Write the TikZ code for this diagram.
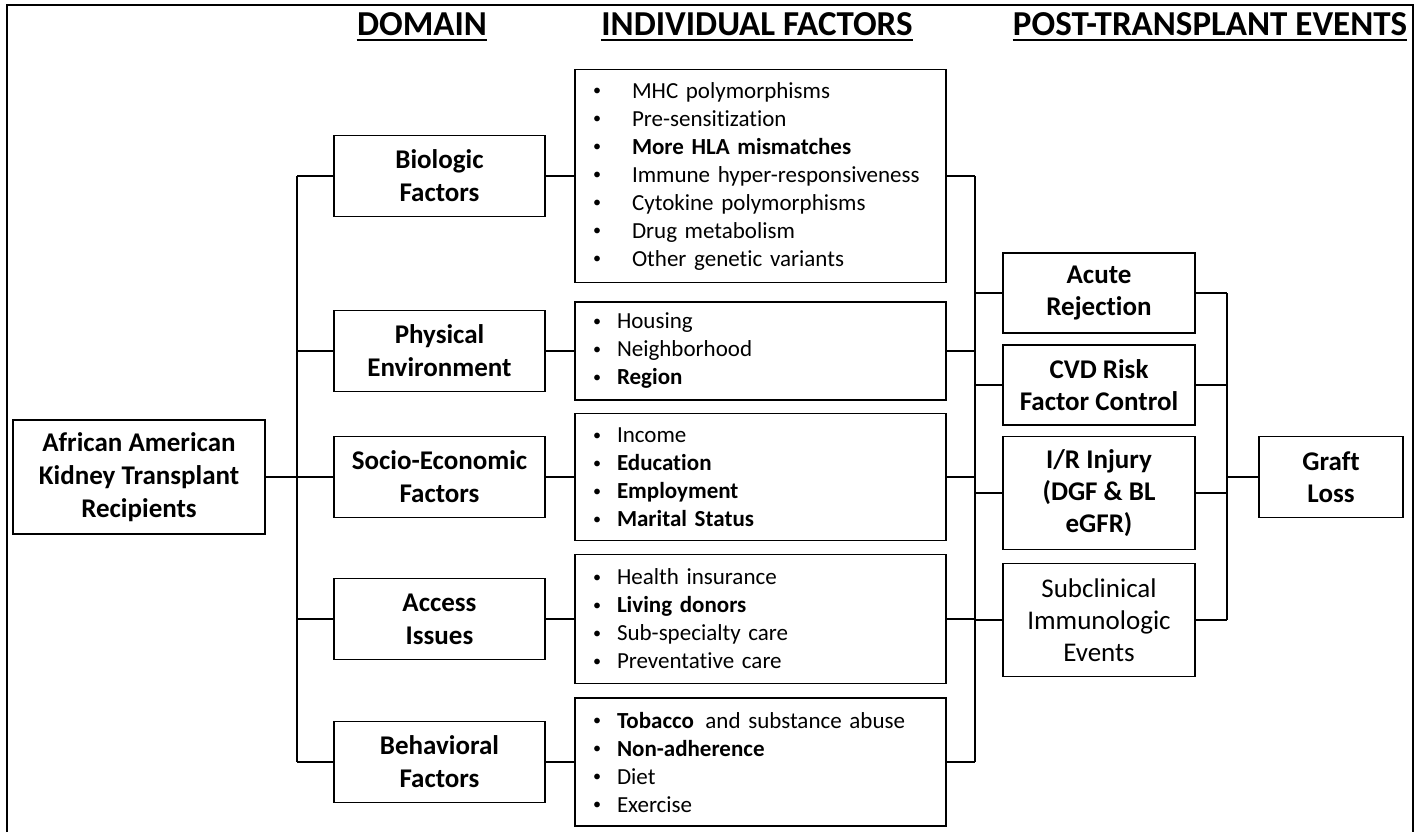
\documentclass[tikz,border=0pt]{standalone}
\usepackage{fontspec}
\setmainfont{Carlito}[RawFeature=-liga]
\usetikzlibrary{calc}

\newcommand{\dotmark}{\raisebox{0.2ex}{\scalebox{0.7}{\textbullet}}}
\newcommand{\itm}[1]{\makebox[12pt][l]{\dotmark}#1}
\newcommand{\itmw}[1]{\makebox[19.5pt][l]{\dotmark}#1}

\tikzset{
  domainbox/.style={draw, line width=0.9pt, align=center, inner sep=2pt,
    minimum width=105.5pt, minimum height=40.5pt,
    font=\fontsize{13.5}{16.5}\selectfont\bfseries},
  itembox/.style={draw, line width=0.9pt, align=left, inner xsep=9pt, inner ysep=2pt,
    text width=167.5pt, font=\fontsize{11.5}{14}\selectfont},
  eventbox/.style={draw, line width=0.9pt, align=center, inner sep=2pt,
    minimum width=96pt, font=\fontsize{13.5}{16}\selectfont\bfseries},
  heading/.style={inner sep=0pt, anchor=base, font=\fontsize{17.5}{20}\selectfont\bfseries},
  link/.style={line width=1pt},
}

\begin{document}
\begin{tikzpicture}[x=0.5pt, y=-0.5pt]
    \useasboundingbox (0,0) rectangle (1424,832);

    % frame
    \draw[line width=0.9pt] (7,832) -- (7,5) -- (1413,5) -- (1413,832);

    % column headings
    \node[heading] (hdom) at (422,35) {DOMAIN};
    \node[heading] (hind) at (757,35) {INDIVIDUAL FACTORS};
    \node[heading] (hpost) at (1210,35) {POST-TRANSPLANT EVENTS};
    \foreach \h in {hdom,hind,hpost}
    \draw[line width=1pt] ([yshift=-2.5pt]\h.base west) -- ([yshift=-2.5pt]\h.base east);

    % root
    \node[domainbox, minimum width=126pt, minimum height=57pt] (root) at (139,477)
        {African American\\Kidney Transplant\\Recipients};

    % domains
    \node[domainbox] (bio) at (439.5,176) {Biologic\\Factors};
    \node[domainbox] (phy) at (439.5,351) {Physical\\Environment};
    \node[domainbox] (soc) at (439.5,477) {Socio-Economic\\Factors};
    \node[domainbox] (acc) at (439.5,619) {Access\\Issues};
    \node[domainbox] (beh) at (439.5,762) {Behavioral\\Factors};

    % individual factors
    \node[itembox, minimum height=106.5pt] (bio-i) at (760.5,176) {%
        \itmw{MHC polymorphisms}\\ \itmw{Pre-sensitization}\\
        \itmw{\textbf{More HLA mismatches}}\\ \itmw{Immune hyper-responsiveness}\\
        \itmw{Cytokine polymorphisms}\\ \itmw{Drug metabolism}\\
        \itmw{Other genetic variants}};
    \node[itembox, minimum height=49pt] (phy-i) at (760.5,351) {%
        \itm{Housing}\\ \itm{Neighborhood}\\ \itm{\textbf{Region}}};
    \node[itembox, minimum height=63.5pt] (soc-i) at (760.5,477) {%
        \itm{Income}\\ \itm{\textbf{Education}}\\ \itm{\textbf{Employment}}\\
        \itm{\textbf{Marital Status}}};
    \node[itembox, minimum height=64.5pt] (acc-i) at (760.5,619) {%
        \itm{Health insurance}\\ \itm{\textbf{Living donors}}\\
        \itm{Sub-specialty care}\\ \itm{Preventative care}};
    \node[itembox, minimum height=64pt] (beh-i) at (760.5,762) {%
        \itm{\textbf{Tobacco}\, and substance abuse}\\ \itm{\textbf{Non-adherence}}\\
        \itm{Diet}\\ \itm{Exercise}};

    % post-transplant events
    \node[eventbox, minimum height=40pt] (acute) at (1099,293) {Acute\\Rejection};
    \node[eventbox, minimum height=40pt] (cvd) at (1099,385) {CVD Risk\\Factor Control};
    \node[eventbox, minimum height=56.5pt] (ir) at (1099,493) {I/R Injury\\(DGF \& BL\\eGFR)};
    \node[eventbox, minimum height=56.5pt, font=\fontsize{13.5}{16}\selectfont] (sub) at (1099,620)
        {Subclinical\\Immunologic\\Events};
    \node[eventbox, minimum width=72pt, minimum height=40.5pt] (graft) at (1331,477) {Graft\\Loss};

    % trunk coordinates
    \coordinate (t1) at (297,176);
    \coordinate (t2) at (297,762);
    \coordinate (m1) at (975,176);
    \coordinate (m2) at (975,762);
    \coordinate (g1) at (1227,293);
    \coordinate (g2) at (1227,620);

    % connectors
    \draw[link] (t1) -- (t2);
    \draw[link] (root.east) -- (root.east -| t1);
    \foreach \d in {bio,phy,soc,acc,beh}
    {
      \draw[link] (\d.west) -- (\d.west -| t1);
      \draw[link] (\d.east) -- (\d-i.west);
      \draw[link] (\d-i.east) -- (\d-i.east -| m1);
    }
    \draw[link] (m1) -- (m2);
    \foreach \e in {acute,cvd,ir,sub}
    {
      \draw[link] (\e.west) -- (\e.west -| m1);
      \draw[link] (\e.east) -- (\e.east -| g1);
    }
    \draw[link] (g1) -- (g2);
    \draw[link] (graft.west) -- (graft.west -| g1);
\end{tikzpicture}
\end{document}
